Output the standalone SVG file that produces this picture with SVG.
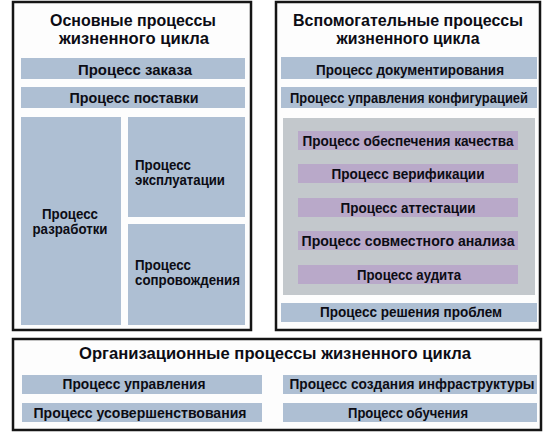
<svg xmlns="http://www.w3.org/2000/svg" width="557" height="438" viewBox="0 0 557 438">
<style>
.box{fill:#fdfdfd;stroke:#151515;stroke-width:2.5}
.bar{fill:#aebfd3}
.gray{fill:#c3c8cc}
.pur{fill:#b9a9c9}
text{font-family:"Liberation Sans",Arial,sans-serif;font-weight:bold;fill:#0c0c14}
.t{font-size:17px;text-anchor:middle}
.b{font-size:15px;text-anchor:middle}
.s{font-size:14.5px}
</style>
<rect width="557" height="438" fill="#ffffff"/>
<g id="main">
<rect class="box" x="13" y="2" width="238" height="328"/>
<text class="t" x="133" y="26" textLength="166" lengthAdjust="spacingAndGlyphs">Основные процессы</text>
<text class="t" x="134" y="44" textLength="150" lengthAdjust="spacingAndGlyphs">жизненного цикла</text>
</g>
<g id="order">
<rect class="bar" x="21" y="58" width="224" height="21"/>
<text class="b" x="135" y="75" textLength="114" lengthAdjust="spacingAndGlyphs">Процесс заказа</text>
</g>
<g id="supply">
<rect class="bar" x="21" y="87" width="224" height="21"/>
<text class="b" x="134" y="103" textLength="129" lengthAdjust="spacingAndGlyphs">Процесс поставки</text>
</g>
<g id="dev">
<rect class="bar" x="21" y="117" width="100" height="208"/>
<text class="s" x="70" y="219" text-anchor="middle" textLength="56" lengthAdjust="spacingAndGlyphs">Процесс</text>
<text class="s" x="70" y="234" text-anchor="middle" textLength="75" lengthAdjust="spacingAndGlyphs">разработки</text>
</g>
<g id="oper">
<rect class="bar" x="128" y="117" width="117" height="100"/>
<text class="s" x="135" y="170" textLength="56" lengthAdjust="spacingAndGlyphs">Процесс</text>
<text class="s" x="135" y="185" textLength="90" lengthAdjust="spacingAndGlyphs">эксплуатации</text>
</g>
<g id="maint">
<rect class="bar" x="128" y="224" width="117" height="101"/>
<text class="s" x="135" y="270" textLength="56" lengthAdjust="spacingAndGlyphs">Процесс</text>
<text class="s" x="135" y="285" textLength="105" lengthAdjust="spacingAndGlyphs">сопровождения</text>
</g>
<g id="support">
<rect class="box" x="276" y="2" width="264" height="328"/>
<text class="t" x="408" y="26" textLength="230" lengthAdjust="spacingAndGlyphs">Вспомогательные процессы</text>
<text class="t" x="408" y="44" textLength="143" lengthAdjust="spacingAndGlyphs">жизненного цикла</text>
</g>
<g id="doc">
<rect class="bar" x="281" y="57" width="256" height="22"/>
<text class="b" x="410" y="75" textLength="188" lengthAdjust="spacingAndGlyphs">Процесс документирования</text>
</g>
<g id="config">
<rect class="bar" x="281" y="87" width="256" height="21"/>
<text class="b" x="409" y="102.5" font-size="12" textLength="238" lengthAdjust="spacingAndGlyphs">Процесс управления конфигурацией</text>
</g>
<g id="quality-group">
<rect class="gray" x="283" y="118" width="252" height="177"/>
</g>
<g id="qa">
<rect class="pur" x="298" y="131" width="220" height="19"/>
<text class="b" x="408" y="146" textLength="211" lengthAdjust="spacingAndGlyphs">Процесс обеспечения качества</text>
</g>
<g id="verif">
<rect class="pur" x="298" y="164" width="220" height="19"/>
<text class="b" x="408" y="179" textLength="153" lengthAdjust="spacingAndGlyphs">Процесс верификации</text>
</g>
<g id="attest">
<rect class="pur" x="298" y="198" width="220" height="19"/>
<text class="b" x="408" y="213" textLength="135" lengthAdjust="spacingAndGlyphs">Процесс аттестации</text>
</g>
<g id="review">
<rect class="pur" x="298" y="231" width="220" height="19"/>
<text class="b" x="408" y="246" textLength="213" lengthAdjust="spacingAndGlyphs">Процесс совместного анализа</text>
</g>
<g id="audit">
<rect class="pur" x="298" y="265" width="220" height="19"/>
<text class="b" x="409" y="280" textLength="104" lengthAdjust="spacingAndGlyphs">Процесс аудита</text>
</g>
<g id="problem">
<rect class="bar" x="281" y="303" width="256" height="19"/>
<text class="b" x="411" y="317" textLength="182" lengthAdjust="spacingAndGlyphs">Процесс решения проблем</text>
</g>
<g id="org">
<rect class="box" x="13" y="339" width="528" height="91"/>
<text class="t" x="275" y="359" font-size="17.5" textLength="392" lengthAdjust="spacingAndGlyphs">Организационные процессы жизненного цикла</text>
</g>
<g id="manage">
<rect class="bar" x="22" y="375" width="240" height="19"/>
<text class="b" x="134" y="389" textLength="143" lengthAdjust="spacingAndGlyphs">Процесс управления</text>
</g>
<g id="improve">
<rect class="bar" x="22" y="403" width="240" height="19"/>
<text class="b" x="140" y="418" textLength="213" lengthAdjust="spacingAndGlyphs">Процесс усовершенствования</text>
</g>
<g id="infra">
<rect class="bar" x="283" y="375" width="254" height="19"/>
<text class="b" x="412" y="389" textLength="245" lengthAdjust="spacingAndGlyphs">Процесс создания инфраструктуры</text>
</g>
<g id="train">
<rect class="bar" x="283" y="403" width="254" height="19"/>
<text class="b" x="408" y="418" textLength="120" lengthAdjust="spacingAndGlyphs">Процесс обучения</text>
</g>
<g id="connectors"></g>
</svg>
